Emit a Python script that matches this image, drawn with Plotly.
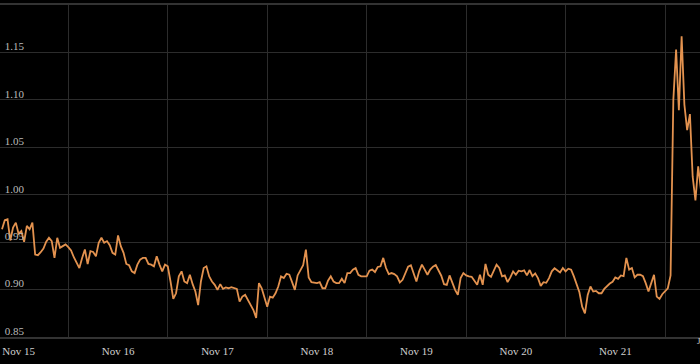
import pandas as pd
import plotly.graph_objects as go

start_time = "2023-11-15 08:00"
step = "40min"

values = [
    0.9635, 0.9731, 0.9741, 0.9518, 0.9653, 0.9706, 0.9589, 0.9617, 0.9504, 0.9671,
    0.9635, 0.9706, 0.9369, 0.9362, 0.9394, 0.9433, 0.9504, 0.9546, 0.9511, 0.9334,
    0.9546, 0.9440, 0.9458, 0.9476, 0.9447, 0.9412, 0.9341, 0.9280, 0.9227, 0.9334,
    0.9422, 0.9270, 0.9405, 0.9397, 0.9351, 0.9493, 0.9546, 0.9493, 0.9511, 0.9468,
    0.9387, 0.9369, 0.9571, 0.9458, 0.9387, 0.9270, 0.9256, 0.9192, 0.9174, 0.9263,
    0.9316, 0.9334, 0.9334, 0.9270, 0.9263, 0.9245, 0.9351, 0.9263, 0.9192, 0.9263,
    0.9245, 0.9085, 0.8901, 0.8961, 0.9139, 0.9192, 0.9085, 0.9068, 0.9156, 0.9057,
    0.8979, 0.8837, 0.9085, 0.9227, 0.9245, 0.9139, 0.9085, 0.9050, 0.8997, 0.9057,
    0.9007, 0.9022, 0.9014, 0.9025, 0.9014, 0.9007, 0.8873, 0.8926, 0.8944, 0.8890,
    0.8844, 0.8784, 0.8702, 0.9068, 0.9014, 0.8908, 0.8820, 0.8926, 0.8915, 0.8961,
    0.9032, 0.9139, 0.9121, 0.9167, 0.9156, 0.9078, 0.8997, 0.9149, 0.9199, 0.9256,
    0.9422, 0.9128, 0.9078, 0.9075, 0.9068, 0.9078, 0.9014, 0.9014, 0.9093, 0.9139,
    0.9085, 0.9068, 0.9068, 0.9114, 0.9068, 0.9174, 0.9174, 0.9210, 0.9227, 0.9156,
    0.9139, 0.9139, 0.9139, 0.9199, 0.9210, 0.9185, 0.9238, 0.9245, 0.9334, 0.9227,
    0.9163, 0.9174, 0.9163, 0.9139, 0.9075, 0.9103, 0.9167, 0.9241, 0.9256, 0.9174,
    0.9085, 0.9192, 0.9263, 0.9210, 0.9156, 0.9210, 0.9241, 0.9259, 0.9210, 0.9146,
    0.9057, 0.9050, 0.9149, 0.9068, 0.8997, 0.8944, 0.9121, 0.9174, 0.9149, 0.9139,
    0.9135, 0.9093, 0.9050, 0.9156, 0.9050, 0.9270, 0.9156, 0.9135, 0.9192, 0.9263,
    0.9227, 0.9139, 0.9149, 0.9078, 0.9128, 0.9192, 0.9156, 0.9199, 0.9192, 0.9202,
    0.9149, 0.9206, 0.9142, 0.9171, 0.9121, 0.9039, 0.9078, 0.9071, 0.9121, 0.9192,
    0.9224, 0.9202, 0.9181, 0.9227, 0.9192, 0.9220, 0.9210, 0.9139, 0.9050, 0.8972,
    0.8820, 0.8749, 0.8944, 0.9032, 0.8979, 0.8986, 0.8961, 0.8961, 0.9007, 0.9036,
    0.9064, 0.9082, 0.9128, 0.9114, 0.9149, 0.9142, 0.9334, 0.9210, 0.9227, 0.9128,
    0.9156, 0.9156, 0.9142, 0.9068, 0.8979, 0.9068, 0.9156, 0.8926, 0.8901, 0.8951,
    0.8986, 0.9014, 0.9150, 1.1000, 1.1530, 1.0890, 1.1670, 1.0950, 1.0680, 1.0850,
    1.0190, 0.9940, 1.0300, 1.0050,
]

day_labels = ["Nov 15", "Nov 16", "Nov 17", "Nov 18", "Nov 19", "Nov 20", "Nov 21"]
day_label_times = ["2023-11-15 12:00", "2023-11-16 12:00", "2023-11-17 12:00",
                   "2023-11-18 12:00", "2023-11-19 12:00", "2023-11-20 12:00",
                   "2023-11-21 12:00"]
y_ticks = [0.85, 0.90, 0.95, 1.00, 1.05, 1.10, 1.15]
x_range = ["2023-11-15 07:31", "2023-11-22 08:26"]
y_range = [0.85, 1.20]

times = pd.date_range(start=start_time, periods=len(values), freq=step)

fig = go.Figure()
fig.add_trace(go.Scatter(
    x=times, y=values, mode="lines",
    line=dict(color="#e3924f", width=1.8),
    hoverinfo="skip",
))

grid = "#2c2c2c"
font_family = "Liberation Serif"

fig.update_layout(
    width=700, height=364,
    margin=dict(l=0, r=0, t=5, b=27),
    paper_bgcolor="#000000",
    plot_bgcolor="#000000",
    showlegend=False,
    font=dict(family=font_family, size=11, color="#cccccc"),
    xaxis=dict(
        type="date",
        range=x_range,
        tickvals=day_label_times,
        ticktext=day_labels,
        showgrid=False,
        minor=dict(dtick=86400000, tick0="2023-11-15", showgrid=True,
                   gridcolor=grid, gridwidth=1, ticks=""),
        showline=True, linecolor="#333333", linewidth=2, mirror=True,
        ticks="",
        ticklabelstandoff=3,
        zeroline=False,
        tickfont=dict(family=font_family, size=11, color="#d0d0d0"),
    ),
    yaxis=dict(
        range=y_range,
        tickvals=y_ticks,
        tickformat=".2f",
        ticklabelposition="outside",
        ticklabelstandoff=-25,
        ticklabelshift=-6,
        showgrid=True, gridcolor=grid, gridwidth=1,
        showline=False, zeroline=False,
        ticks="",
        tickfont=dict(family=font_family, size=11, color="#bbbbbb"),
    ),
)

fig.add_annotation(
    text="J", xref="paper", yref="paper", x=0.993, y=-0.013,
    xanchor="left", yanchor="middle", showarrow=False,
    font=dict(family=font_family, size=9, color="#cccccc"),
)

fig.write_html("out.html")
